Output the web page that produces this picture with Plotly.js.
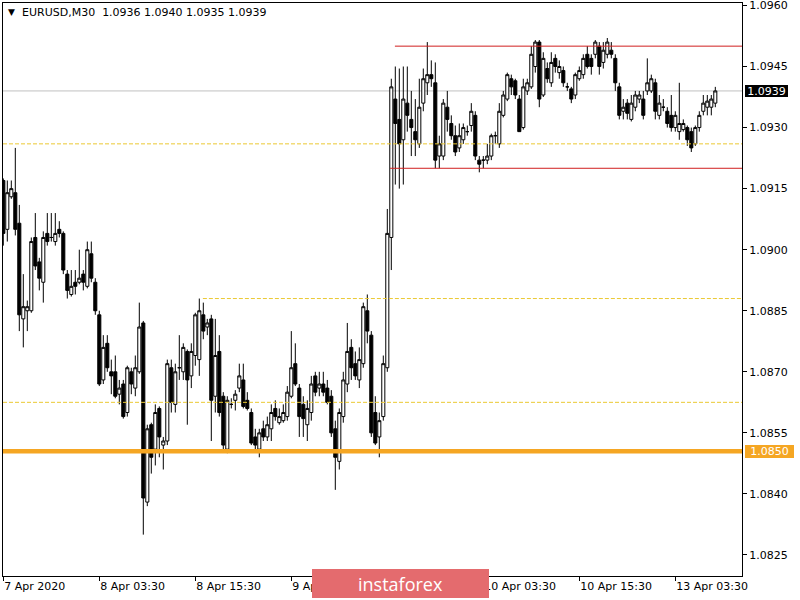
<!DOCTYPE html>
<html><head><meta charset="utf-8">
<script src="https://cdn.plot.ly/plotly-3.0.1.min.js"></script>
<style>html,body{margin:0;padding:0;background:#fff}#chart{width:800px;height:600px}</style>
</head><body><div id="chart"></div>
<script>
const symbol = 'EURUSD,M30';
const tickBars = [0, 24, 48, 72, 96, 120, 144, 168];
const tickLabels = ['7 Apr 2020', '8 Apr 03:30', '8 Apr 15:30', '9 Apr 03:30', '9 Apr 15:30', '10 Apr 03:30', '10 Apr 15:30', '13 Apr 03:30'];
const priceTicks = [1.0825, 1.0840, 1.0855, 1.0870, 1.0885, 1.0900, 1.0915, 1.0930, 1.0945, 1.0960];

const opens = [
1.0917,1.0905,1.0913,1.0914,1.09065,1.0883,1.0885,1.0885,1.0903,1.0897,
1.0892,1.0904,1.0903,1.0902,1.0905,1.0904,1.0894,1.0889,1.0892,1.0892,
1.0894,1.0891,1.0899,1.0892,1.0884,1.0868,1.0877,1.0870,1.0870,1.08645,
1.0867,1.0860,1.0870,1.0866,1.0870,1.0882,1.0838,1.0857,1.0851,1.0861,
1.0852,1.0853,1.0871,1.0862,1.0871,1.0870,1.0875,1.0869,1.0874,1.0873,
1.0884,1.0881,1.0883,1.0864,1.0875,1.0864,1.0851,1.0862,1.0863,1.0866,
1.0868,1.0863,1.0860,1.0854,1.0851,1.0856,1.0854,1.0856,1.0861,1.08575,
1.0858,1.0859,1.0864,1.0872,1.0866,1.0862,1.0857,1.0860,1.0869,1.0866,
1.0867,1.0866,1.0864,1.0856,1.0848,1.0859,1.0867,1.0876,1.0872,1.0868,
1.0872,1.0885,1.0879,1.0860,1.0854,1.0859,1.0871,1.0903,1.0937,1.0932,
1.0927,1.0936,1.0932,1.0929,1.0926,1.0936,1.0941,1.0943,1.0941,1.0923,
1.0923,1.0935,1.0931,1.0928,1.0925,1.0927,1.0929,1.09305,1.0933,1.0922,
1.0922,1.0922,1.0923,1.0928,1.0926,1.0933,1.0937,1.0942,1.09415,1.0937,
1.0930,1.0939,1.0940,1.0945,1.0951,1.0938,1.09445,1.0941,1.0947,1.09435,
1.0944,1.0940,1.09395,1.0938,1.0942,1.0943,1.0948,1.0947,1.0948,1.0950,
1.0946,1.0948,1.0949,1.0947,1.0940,1.0934,1.0936,1.0932,1.0935,1.0937,
1.0937,1.0939,1.0939,1.0941,1.0933,1.0935,1.0934,1.0933,1.0930,1.0929,
1.09295,1.0930,1.0929,1.0926,1.0930,1.0934,1.0935,1.0935,1.0936];

const highs = [
1.09175,1.0917,1.0917,1.0925,1.0911,1.0894,1.08875,1.0903,1.0909,1.0898,
1.09045,1.0909,1.0909,1.0909,1.0907,1.09045,1.0895,1.0895,1.0895,1.0900,
1.0895,1.0902,1.0902,1.0893,1.0885,1.0879,1.0879,1.0873,1.0874,1.0868,
1.0868,1.08715,1.0871,1.0874,1.0887,1.08825,1.0857,1.08575,1.0862,1.08615,
1.0854,1.0873,1.0873,1.0872,1.0879,1.0877,1.08755,1.0877,1.08845,1.0888,
1.0887,1.0883,1.0884,1.0883,1.0879,1.0865,1.0864,1.08635,1.08655,1.0872,
1.0872,1.0865,1.0861,1.0856,1.0856,1.0858,1.0859,1.0862,1.0863,1.0861,
1.0862,1.08665,1.0880,1.0877,1.0867,1.0864,1.0863,1.0869,1.0870,1.0870,
1.0870,1.0868,1.08655,1.0858,1.0861,1.0870,1.0882,1.0878,1.0875,1.0876,
1.0887,1.0889,1.0880,1.0864,1.0860,1.0874,1.0910,1.0942,1.0945,1.09445,
1.0945,1.0945,1.0939,1.0937,1.0942,1.09445,1.0951,1.09465,1.0946,1.0928,
1.0937,1.0939,1.0933,1.09305,1.0931,1.0931,1.09305,1.0936,1.0934,1.0923,
1.0923,1.0926,1.09285,1.0929,1.0936,1.0939,1.09435,1.0943,1.0942,1.0938,
1.0942,1.0942,1.0950,1.09515,1.09515,1.09485,1.0946,1.09485,1.0948,1.09465,
1.0945,1.0941,1.0940,1.09435,1.0945,1.0948,1.0950,1.0948,1.09515,1.0951,
1.0951,1.0952,1.0951,1.0948,1.0941,1.0937,1.0937,1.0938,1.0939,1.0939,
1.0939,1.0947,1.0943,1.0942,1.0938,1.0937,1.0935,1.0938,1.0934,1.0941,
1.0932,1.09305,1.0930,1.09305,1.0934,1.0938,1.0938,1.0938,1.0940];

const lows = [
1.0901,1.0902,1.09125,1.09035,1.0880,1.0876,1.0880,1.08845,1.0895,1.0890,
1.0887,1.0901,1.0902,1.0901,1.0903,1.0894,1.0888,1.08885,1.0889,1.08915,
1.0890,1.08905,1.0892,1.0884,1.08665,1.0867,1.0870,1.08645,1.08635,1.0862,
1.08585,1.0859,1.08645,1.0864,1.08695,1.0830,1.0837,1.0845,1.0847,1.0849,
1.0846,1.0852,1.0860,1.0860,1.0868,1.0868,1.0857,1.0866,1.08715,1.0869,
1.0878,1.0879,1.0853,1.0860,1.0859,1.0851,1.0850,1.0861,1.08605,1.0865,
1.0861,1.08605,1.0852,1.0851,1.0849,1.0853,1.0853,1.0853,1.0858,1.0857,
1.08575,1.0858,1.08635,1.08665,1.0854,1.0854,1.0853,1.0858,1.0864,1.0864,
1.0864,1.0862,1.0854,1.0841,1.0846,1.08575,1.0865,1.0868,1.0868,1.0866,
1.0871,1.0877,1.0854,1.0852,1.0849,1.0858,1.0870,1.0895,1.0916,1.0915,
1.0916,1.0929,1.0923,1.0923,1.0925,1.0934,1.0938,1.0940,1.0920,1.0920,
1.0922,1.0929,1.0927,1.0923,1.0924,1.0926,1.0928,1.0929,1.0922,1.0919,
1.0920,1.0921,1.0922,1.0926,1.0925,1.09325,1.09365,1.0938,1.0937,1.0929,
1.09295,1.0938,1.09395,1.09435,1.0935,1.09375,1.0941,1.0940,1.09435,1.0942,
1.0940,1.0939,1.0936,1.0937,1.09415,1.0942,1.09445,1.0943,1.0947,1.0943,
1.09445,1.0947,1.0947,1.0939,1.0932,1.0932,1.0932,1.09315,1.0934,1.0936,
1.0932,1.0938,1.09385,1.0932,1.0932,1.0934,1.0930,1.0929,1.0929,1.0927,
1.0929,1.09255,1.0924,1.09255,1.0929,1.0933,1.0933,1.0933,1.0935];

const closes = [
1.0904,1.0914,1.0915,1.0905,1.0884,1.0886,1.0886,1.0902,1.0896,1.0893,
1.0903,1.0902,1.0903,1.0904,1.0904,1.0895,1.0890,1.0891,1.0891,1.0893,
1.0892,1.0900,1.0893,1.0885,1.0867,1.0876,1.0871,1.0869,1.0864,1.0866,
1.0859,1.0871,1.0867,1.0871,1.0881,1.0839,1.0856,1.0849,1.0860,1.0854,
1.0853,1.0872,1.08625,1.0870,1.0871,1.0876,1.0868,1.0875,1.0884,1.0885,
1.0880,1.0882,1.0863,1.0874,1.0860,1.0852,1.0863,1.0862,1.08645,1.0869,
1.08615,1.0861,1.08525,1.0852,1.0855,1.0854,1.0857,1.0860,1.0859,1.0859,
1.0860,1.0865,1.0871,1.0867,1.0859,1.08585,1.0861,1.0867,1.0865,1.0867,
1.0865,1.08625,1.0855,1.0849,1.0860,1.0868,1.0875,1.0871,1.0869,1.0873,
1.0886,1.0880,1.0855,1.08525,1.0858,1.0872,1.0904,1.0940,1.0931,1.0926,
1.0937,1.0933,1.0930,1.0927,1.0935,1.0942,1.0943,1.0942,1.0922,1.0926,
1.0936,1.0932,1.0928,1.0924,1.0928,1.0930,1.0929,1.0934,1.0923,1.0921,
1.0922,1.0923,1.0928,1.0928,1.0934,1.0938,1.0943,1.0940,1.0938,1.0929,
1.0940,1.0941,1.0948,1.0951,1.0937,1.0947,1.0942,1.0946,1.0945,1.0945,
1.0941,1.0940,1.0937,1.0943,1.0944,1.0947,1.0945,1.0945,1.0951,1.0945,
1.0949,1.0951,1.0948,1.0941,1.0933,1.0935,1.09335,1.0936,1.0938,1.0938,
1.0933,1.0941,1.0942,1.0934,1.0936,1.0935,1.0931,1.0930,1.0933,1.0931,
1.0931,1.0927,1.0925,1.0930,1.0933,1.0936,1.09365,1.0937,1.0939];

const bidPrice = 1.0939;
const resistanceLevel = 1.0950;
const supportLevel = 1.0920;
const dashedLevels = [1.0926, 1.0888, 1.08625];
const keyLevel = 1.0850;

// ---------- layout helpers ----------
const W = 800, H = 600, ML = 3, MR = 58, MT = 3, MB = 24;
const plotW = W - ML - MR, plotH = H - MT - MB;
const pxX = px => (px - ML) / plotW;
const pxY = py => (H - MB - py) / plotH;
const FONT = 'Tahoma, "DejaVu Sans", sans-serif';
const idx = opens.map((_, i) => i);
const fmt = v => v.toFixed(4);
const last = opens.length - 1;
const header = symbol + '\u00a0\u00a0' + [opens[last], highs[last], lows[last], closes[last]].map(fmt).join(' ');
// the 9 Apr 15:30 label lies completely under the watermark box in the original
const shownTickText = tickLabels.map((t, i) => tickBars[i] === 96 ? '' : t);

const gold = '#ebc933';
const red = '#d01f1f';
const orange = '#f5a623';

const shapes = [
  {type:'line', xref:'paper', x0:0, x1:1, yref:'y', y0:bidPrice, y1:bidPrice, line:{color:'#c0c0c0', width:1}, layer:'below'},
  {type:'line', xref:'paper', x0:0, x1:1, yref:'y', y0:dashedLevels[0], y1:dashedLevels[0], line:{color:gold, width:1, dash:'4px,2px'}, layer:'above'},
  {type:'line', xref:'x', x0:49.9, x1:186, yref:'y', y0:dashedLevels[1], y1:dashedLevels[1], line:{color:gold, width:1, dash:'4px,2px'}, layer:'above'},
  {type:'line', xref:'paper', x0:0, x1:1, yref:'y', y0:dashedLevels[2], y1:dashedLevels[2], line:{color:gold, width:1, dash:'4px,2px'}, layer:'above'},
  {type:'line', xref:'x', x0:97.9, x1:186, yref:'y', y0:resistanceLevel, y1:resistanceLevel, line:{color:red, width:1}, layer:'above'},
  {type:'line', xref:'x', x0:96.7, x1:186, yref:'y', y0:supportLevel, y1:supportLevel, line:{color:red, width:1}, layer:'above'},
  {type:'line', xref:'paper', x0:0, x1:1, yref:'y', y0:keyLevel + 0.00005, y1:keyLevel + 0.00005, line:{color:orange, width:4.5}, layer:'above'}
];

const annotations = [
  {xref:'paper', yref:'paper', x:pxX(11), y:pxY(12), text:'\u25BC', showarrow:false, xanchor:'center', yanchor:'middle', font:{family:'DejaVu Sans', size:9, color:'#000'}},
  {xref:'paper', yref:'paper', x:pxX(20), y:pxY(12.5), text:header, showarrow:false, xanchor:'left', yanchor:'middle', font:{family:FONT, size:11, color:'#000'}},
  {xref:'paper', yref:'y', x:pxX(745), y:bidPrice, text:fmt(bidPrice), showarrow:false, xanchor:'left', yanchor:'middle', bgcolor:'#000', width:43, height:12, borderpad:0, borderwidth:0, font:{family:FONT, size:11, color:'#fff'}},
  {xref:'paper', yref:'y', x:pxX(745), y:keyLevel + 0.00005, text:fmt(keyLevel), showarrow:false, xanchor:'left', yanchor:'middle', bgcolor:orange, width:49, height:13, borderpad:0, borderwidth:0, font:{family:FONT, size:11, color:'#fff'}},
  {xref:'paper', yref:'paper', x:pxX(400), y:pxY(583.5), text:'instaforex', showarrow:false, xanchor:'center', yanchor:'middle', bgcolor:'#e46b6e', width:177, height:29, borderpad:0, borderwidth:0, font:{family:'"Open Sans", sans-serif', size:18, color:'#fff'}}
];

const trace = {
  type:'candlestick', x:idx, open:opens, high:highs, low:lows, close:closes,
  increasing:{line:{color:'#000', width:1}, fillcolor:'#ffffff'},
  decreasing:{line:{color:'#000', width:1}, fillcolor:'#000000'},
  whiskerwidth:0, hoverinfo:'none', showlegend:false
};

const layout = {
  width:W, height:H, margin:{l:ML, r:MR, t:MT, b:MB, pad:0},
  paper_bgcolor:'#fff', plot_bgcolor:'#fff', showlegend:false,
  font:{family:FONT, size:11, color:'#000'},
  boxgap:0.1, boxgroupgap:0.15,
  xaxis:{range:[-0.075, 184.675], rangeslider:{visible:false}, showgrid:false, zeroline:false,
    showline:true, linecolor:'#000', linewidth:1, mirror:true, ticks:'outside', ticklen:4, tickcolor:'#000',
    tickmode:'array', tickvals:tickBars, ticktext:shownTickText, ticklabelposition:'outside right',
    tickfont:{family:FONT, size:11, color:'#000'}, automargin:false, fixedrange:true},
  yaxis:{side:'right', range:[1.081984, 1.09606], tickmode:'array', tickvals:priceTicks, ticktext:priceTicks.map(fmt),
    ticklabeloverflow:'allow',
    showgrid:false, zeroline:false, showline:true, mirror:true, linecolor:'#000', linewidth:1,
    ticks:'outside', ticklen:4, tickcolor:'#000', tickfont:{family:FONT, size:11, color:'#000'}, automargin:false, fixedrange:true},
  shapes:shapes, annotations:annotations
};

Plotly.newPlot('chart', [trace], layout, {displayModeBar:false, staticPlot:true});
</script>
</body></html>
